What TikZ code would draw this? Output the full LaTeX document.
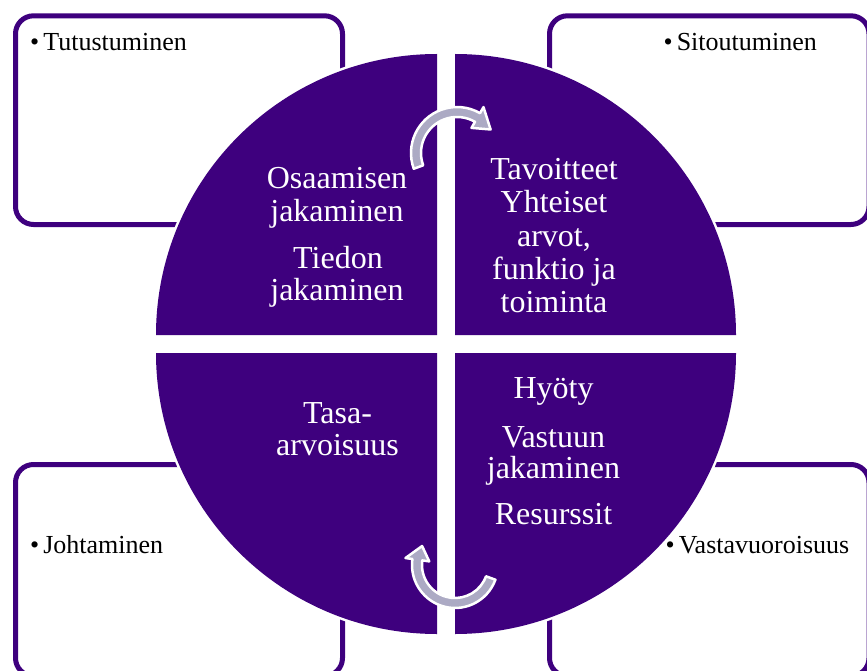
\documentclass[tikz,border=0pt]{standalone}
\usepackage{fontspec}
\setmainfont{Liberation Serif}
\usetikzlibrary{calc}
\definecolor{deeppurple}{RGB}{62,0,126}
\definecolor{arrowgrey}{RGB}{172,170,196}
\begin{document}
\begin{tikzpicture}[x=1pt,y=-1pt,
  frame/.style={draw=deeppurple, line width=5pt, rounded corners=18pt, fill=white},
  quarter/.style={fill=deeppurple, preaction={draw=white, line width=5pt}},
  inner/.style={text=white, font=\fontsize{32}{32}\selectfont, inner sep=0pt, anchor=base},
  item/.style={text=black, font=\fontsize{26}{26}\selectfont, inner sep=0pt, anchor=base west},
  band/.style={fill=arrowgrey, draw=white, line width=2.5pt, line join=round}]
\useasboundingbox (0,0) rectangle (867,671);
\clip (0,0) rectangle (867,671);

% outer frames
\draw[frame] (15.5,15.8) rectangle (342.5,224.5);
\draw[frame] (549.5,15.8) rectangle (869,224.5);
\draw[frame] (15.5,464.5) rectangle (342.5,676);
\draw[frame] (549.5,464.5) rectangle (869,676);

% frame items
\node[item] (b1) at (30,51) {\textbullet\kern4pt Tutustuminen};
\node[item] (b2) at (663.5,51) {\textbullet\kern4pt Sitoutuminen};
\node[item] (b3) at (30,553) {\textbullet\kern4pt Johtaminen};
\node[item] (b4) at (665.5,553) {\textbullet\kern4pt Vastavuoroisuus};

% four quarters of the disc
\fill[quarter] (437,335) -- (156,335) arc[start angle=180,end angle=270,radius=281] -- cycle;
\fill[quarter] (455,335) -- (455,54) arc[start angle=270,end angle=360,radius=281] -- cycle;
\fill[quarter] (455,353) -- (736,353) arc[start angle=0,end angle=90,radius=281] -- cycle;
\fill[quarter] (437,353) -- (437,634) arc[start angle=90,end angle=180,radius=281] -- cycle;

% quarter texts
\node[inner] (q1a) at (337,189) {Osaamisen};
\node[inner] (q1b) at (337,222) {jakaminen};
\node[inner] (q1c) at (338,268) {Tiedon};
\node[inner] (q1d) at (337,300) {jakaminen};

\node[inner] (q2a) at (554,180) {Tavoitteet};
\node[inner] (q2b) at (554,213) {Yhteiset};
\node[inner] (q2c) at (554,246) {arvot,};
\node[inner] (q2d) at (554,279) {funktio ja};
\node[inner] (q2e) at (554,312) {toiminta};

\node[inner] (q3a) at (337.5,423) {Tasa-};
\node[inner] (q3b) at (337.5,455) {arvoisuus};

\node[inner] (q4a) at (553.5,398) {Hyöty};
\node[inner] (q4b) at (553.5,447) {Vastuun};
\node[inner] (q4c) at (553.5,478) {jakaminen};
\node[inner] (q4d) at (553.5,524) {Resurssit};

% circular arrows
\coordinate (tc) at (457,153);
\path[band] ($(tc)+(160:46)$) arc[start angle=160,end angle=300,radius=46]
  -- ($(tc)+(300:53)$) -- ($(tc)+(325:41)$) -- ($(tc)+(300:29)$)
  -- ($(tc)+(300:36)$) arc[start angle=300,end angle=160,radius=36] -- cycle;

\coordinate (bc) at (455,565);
\path[band] ($(bc)+(20:43)$) arc[start angle=20,end angle=188,radius=43]
  -- ($(bc)+(188:50)$) -- ($(bc)+(210:38)$) -- ($(bc)+(188:26)$)
  -- ($(bc)+(188:33)$) arc[start angle=188,end angle=20,radius=33] -- cycle;
\end{tikzpicture}
\end{document}
